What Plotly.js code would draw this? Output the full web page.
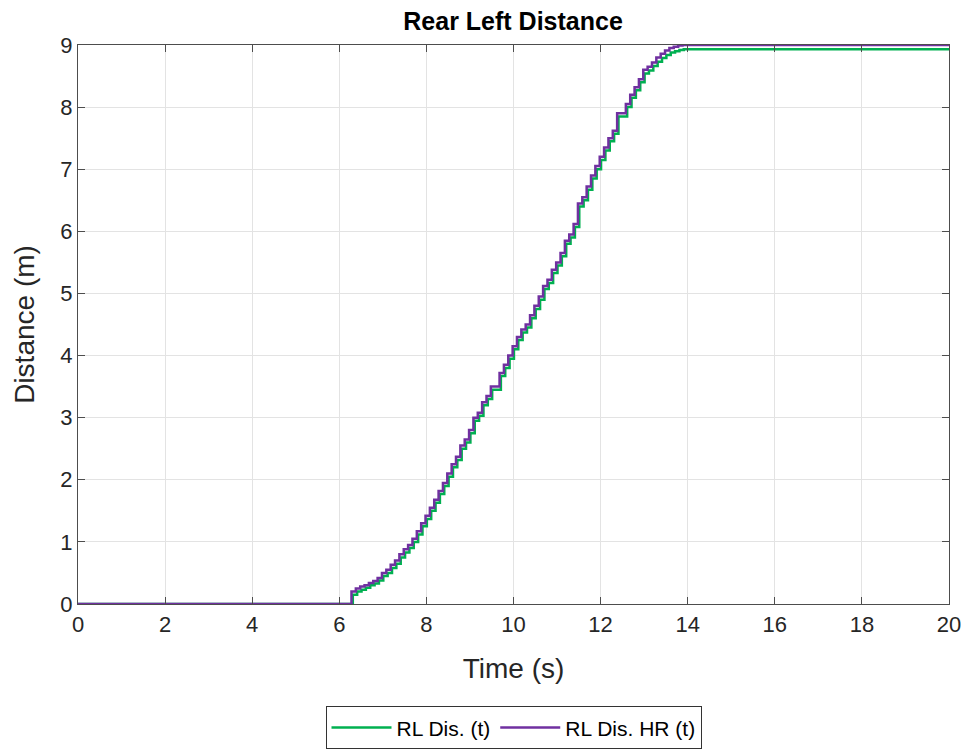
<!DOCTYPE html>
<html>
<head>
<meta charset="utf-8">
<script src="https://cdn.plot.ly/plotly-3.0.1.min.js"></script>
<style>html,body{margin:0;padding:0;background:#fff;}#chart{width:968px;height:751px;}</style>
</head>
<body>
<div id="chart"></div>
<script>
// Time samples (s)
const timeHR = [0, 6.2, 6.28, 6.38, 6.48, 6.58, 6.68, 6.78, 6.88, 6.98, 7.08, 7.18, 7.28, 7.38, 7.48, 7.58, 7.68, 7.78, 7.88,
  7.98, 8.08, 8.18, 8.28, 8.38, 8.48, 8.58, 8.68, 8.78, 8.88, 8.98, 9.08, 9.18, 9.28, 9.38, 9.48, 9.58, 9.68, 9.78, 9.88,
  9.98, 10.08, 10.18, 10.28, 10.38, 10.48, 10.58, 10.68, 10.78, 10.88, 10.98, 11.08, 11.18, 11.28, 11.38, 11.48, 11.58, 11.68, 11.78, 11.88,
  11.98, 12.08, 12.18, 12.28, 12.38, 12.48, 12.58, 12.68, 12.78, 12.88, 12.98, 13.08, 13.18, 13.28, 13.38, 13.48, 13.58, 13.68, 13.78, 13.88, 13.98, 20];
// RL Dis. HR (t) distance (m)
const distHR = [0, 0, 0.2, 0.25, 0.28, 0.3, 0.34, 0.37, 0.42, 0.5, 0.55, 0.63, 0.7, 0.8, 0.88, 0.95, 1.05, 1.17, 1.3,
  1.42, 1.55, 1.68, 1.82, 1.95, 2.1, 2.25, 2.37, 2.55, 2.65, 2.8, 3.0, 3.08, 3.25, 3.35, 3.5, 3.5, 3.72, 3.85, 4.0,
  4.15, 4.3, 4.42, 4.5, 4.65, 4.8, 4.95, 5.12, 5.22, 5.38, 5.5, 5.65, 5.85, 5.95, 6.12, 6.45, 6.55, 6.72, 6.9, 7.05,
  7.2, 7.35, 7.5, 7.62, 7.9, 7.9, 8.05, 8.2, 8.32, 8.45, 8.6, 8.65, 8.72, 8.8, 8.86, 8.91, 8.95, 8.97, 8.99, 9.0, 9.0, 9.0];
const timeRL = [0, 6.22, 6.31, 6.41, 6.51, 6.61, 6.71, 6.81, 6.91, 7.01, 7.11, 7.21, 7.31, 7.41, 7.51, 7.61, 7.71, 7.81, 7.91,
  8.01, 8.11, 8.21, 8.31, 8.41, 8.51, 8.61, 8.71, 8.81, 8.91, 9.01, 9.11, 9.21, 9.31, 9.41, 9.51, 9.61, 9.71, 9.81, 9.91,
  10.01, 10.11, 10.21, 10.31, 10.41, 10.51, 10.61, 10.71, 10.81, 10.91, 11.01, 11.11, 11.21, 11.31, 11.41, 11.51, 11.61, 11.71, 11.81, 11.91,
  12.01, 12.11, 12.21, 12.31, 12.41, 12.51, 12.61, 12.71, 12.81, 12.91, 13.01, 13.11, 13.21, 13.31, 13.41, 13.51, 13.61, 13.71, 13.81, 13.91, 14.01, 20];
// RL Dis. (t) distance (m)
const distRL = [0, 0, 0.15, 0.2, 0.23, 0.26, 0.3, 0.33, 0.38, 0.45, 0.5, 0.58, 0.65, 0.75, 0.83, 0.9, 1.0, 1.12, 1.25,
  1.37, 1.5, 1.63, 1.77, 1.9, 2.05, 2.2, 2.32, 2.5, 2.6, 2.75, 2.95, 3.03, 3.2, 3.3, 3.45, 3.45, 3.67, 3.8, 3.95,
  4.1, 4.25, 4.37, 4.45, 4.6, 4.75, 4.9, 5.07, 5.17, 5.33, 5.45, 5.6, 5.8, 5.9, 6.07, 6.4, 6.5, 6.67, 6.85, 7.0,
  7.15, 7.3, 7.45, 7.57, 7.85, 7.85, 8.0, 8.15, 8.27, 8.4, 8.54, 8.59, 8.66, 8.73, 8.79, 8.84, 8.88, 8.9, 8.92, 8.93, 8.93, 8.93];
const xTicks = [0, 2, 4, 6, 8, 10, 12, 14, 16, 18, 20];
const yTicks = [0, 1, 2, 3, 4, 5, 6, 7, 8, 9];

const font = 'Liberation Sans, Arial, sans-serif';
const traces = [
  {x: timeRL, y: distRL, mode: 'lines', name: 'RL Dis. (t)', line: {color: '#00b050', width: 2.5, shape: 'hv'}},
  {x: timeHR, y: distHR, mode: 'lines', name: 'RL Dis. HR (t)', line: {color: '#7030a0', width: 2.5, shape: 'hv'}}
];
const axisCommon = {
  showline: true, linecolor: '#4d4d4d', linewidth: 1.2, mirror: 'ticks',
  ticks: 'inside', ticklen: 7, tickcolor: '#4d4d4d',
  showgrid: true, gridcolor: '#e3e3e3', gridwidth: 1, zeroline: false,
  tickfont: {family: font, size: 22, color: '#262626'}
};
const layout = {
  width: 968, height: 751,
  margin: {l: 78, r: 19, t: 45, b: 147, autoexpand: false},
  paper_bgcolor: '#fff', plot_bgcolor: '#fff',
  title: {text: '<b>Rear Left Distance</b>', font: {family: font, size: 25, color: '#000'}, x: 0.53, xanchor: 'center', y: 0.972, yanchor: 'middle'},
  xaxis: Object.assign({}, axisCommon, {range: [0, 20], tickvals: xTicks, title: {text: 'Time (s)', font: {family: font, size: 28, color: '#262626'}, standoff: 22}}),
  yaxis: Object.assign({}, axisCommon, {range: [0, 9], tickvals: yTicks, title: {text: 'Distance (m)', font: {family: font, size: 28, color: '#262626'}, standoff: 17}}),
  showlegend: true,
  legend: {orientation: 'h', x: 0.5, xanchor: 'center', y: -0.183, yanchor: 'top',
    bordercolor: '#333', borderwidth: 1, bgcolor: '#fff',
    font: {family: font, size: 21, color: '#000'}, itemwidth: 60, tracegroupgap: 0}
};
Plotly.newPlot('chart', traces, layout, {displayModeBar: false, staticPlot: true});
</script>
</body>
</html>
